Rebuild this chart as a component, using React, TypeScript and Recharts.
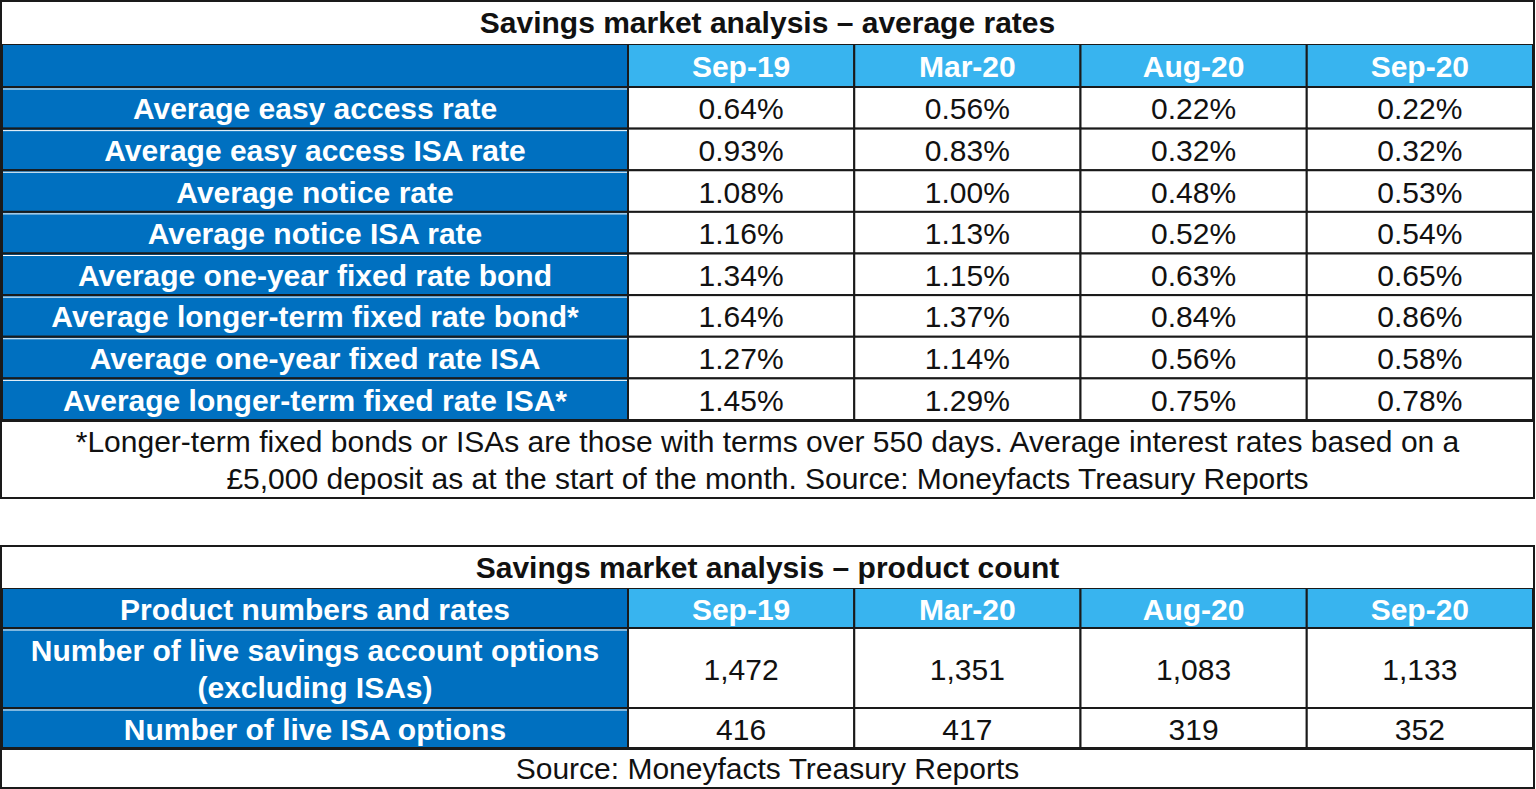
import { Label, Scatter, ScatterChart, XAxis, YAxis } from 'recharts'

const periods = ['Sep-19', 'Mar-20', 'Aug-20', 'Sep-20']

const rateLabels = [
  'Average easy access rate',
  'Average easy access ISA rate',
  'Average notice rate',
  'Average notice ISA rate',
  'Average one-year fixed rate bond',
  'Average longer-term fixed rate bond*',
  'Average one-year fixed rate ISA',
  'Average longer-term fixed rate ISA*',
]
const easyAccess = [0.64, 0.56, 0.22, 0.22]
const easyAccessIsa = [0.93, 0.83, 0.32, 0.32]
const notice = [1.08, 1.0, 0.48, 0.53]
const noticeIsa = [1.16, 1.13, 0.52, 0.54]
const oneYearBond = [1.34, 1.15, 0.63, 0.65]
const longerTermBond = [1.64, 1.37, 0.84, 0.86]
const oneYearIsa = [1.27, 1.14, 0.56, 0.58]
const longerTermIsa = [1.45, 1.29, 0.75, 0.78]

const countLabels = [
  ['Number of live savings account options', '(excluding ISAs)'],
  ['Number of live ISA options'],
]
const liveSavingsOptions = [1472, 1351, 1083, 1133]
const liveIsaOptions = [416, 417, 319, 352]

const rateNote = [
  '*Longer-term fixed bonds or ISAs are those with terms over 550 days. Average interest rates based on a',
  '£5,000 deposit as at the start of the month. Source: Moneyfacts Treasury Reports',
]
const countNote = ['Source: Moneyfacts Treasury Reports']

const FONT = '"Liberation Sans", Arial, sans-serif'
const DARK = '#0070C0'
const LIGHT = '#38B4EF'
const LINE = '#1a1a1a'
const TABLE_W = 1531
const LABEL_W = 626
const COL_W = (TABLE_W - LABEL_W) / 4

type Row = { label: string[]; values: string[] }

type TableProps = {
  title: string
  corner: string
  rows: Row[]
  top: number
  titleH: number
  headerH: number
  bodyH: number
  note: string[]
  noteH: number
}

function SavingsTable({ title, corner, rows, top, titleH, headerH, bodyH, note, noteH }: TableProps) {
  let acc = 0
  const placed = rows.map((r) => {
    const units = r.label.length
    const center = acc + units / 2
    acc += units
    return { ...r, units, center }
  })
  const totalUnits = acc
  const unitPx = bodyH / totalUnits
  const points = placed.flatMap((r) =>
    r.values.map((v, j) => ({ col: periods[j], y: r.center, text: v, units: r.units })),
  )

  const renderCell = (props: any) => {
    const { cx, cy, payload } = props
    const h = payload.units * unitPx
    return (
      <g>
        <rect x={cx - COL_W / 2} y={cy - h / 2} width={COL_W} height={h} fill="#fff" stroke={LINE} strokeWidth={2} />
        <text x={cx} y={cy + 1} textAnchor="middle" dominantBaseline="central" fontSize={30} fontFamily={FONT} fill="#111">
          {payload.text}
        </text>
      </g>
    )
  }

  const renderRowTick = (props: any) => {
    const { y, payload } = props
    const row = placed.find((r) => Math.abs(r.center - payload.value) < 1e-6)
    if (!row) return <g />
    const h = row.units * unitPx
    const n = row.label.length
    return (
      <g>
        <rect x={0} y={y - h / 2} width={LABEL_W} height={h} fill={DARK} stroke={LINE} strokeWidth={2} />
        <line x1={1} x2={LABEL_W - 1} y1={y - h / 2 + 2} y2={y - h / 2 + 2} stroke="#fff" strokeWidth={1} />
        {row.label.map((line, i) => (
          <text
            key={line}
            x={LABEL_W / 2}
            y={y + 1 + (i - (n - 1) / 2) * 37}
            textAnchor="middle"
            dominantBaseline="central"
            fontSize={30}
            fontWeight="bold"
            fontFamily={FONT}
            fill="#fff"
          >
            {line}
          </text>
        ))}
      </g>
    )
  }

  const renderColTick = (props: any) => {
    const { x, payload } = props
    return (
      <g>
        <rect x={x - COL_W / 2} y={0} width={COL_W} height={headerH} fill={LIGHT} stroke={LINE} strokeWidth={2} />
        <text x={x} y={headerH / 2 + 1} textAnchor="middle" dominantBaseline="central" fontSize={30} fontWeight="bold" fontFamily={FONT} fill="#fff">
          {payload.value}
        </text>
      </g>
    )
  }

  const renderCorner = () => (
    <g>
      <rect x={0} y={0} width={LABEL_W} height={headerH} fill={DARK} stroke={LINE} strokeWidth={2} />
      <text x={LABEL_W / 2} y={headerH / 2 + 1} textAnchor="middle" dominantBaseline="central" fontSize={30} fontWeight="bold" fontFamily={FONT} fill="#fff">
        {corner}
      </text>
    </g>
  )

  return (
    <div
      style={{
        position: 'absolute',
        left: 2,
        top,
        width: TABLE_W,
        border: `2px solid ${LINE}`,
        boxSizing: 'content-box',
        marginLeft: -2,
        marginTop: -2,
        background: '#fff',
        fontFamily: FONT,
      }}
    >
      <div
        style={{
          height: titleH,
          lineHeight: `${titleH}px`,
          textAlign: 'center',
          fontWeight: 'bold',
          fontSize: 30,
          color: '#111',
        }}
      >
        {title}
      </div>
      <ScatterChart width={TABLE_W} height={headerH + bodyH} margin={{ top: 0, right: 0, bottom: 0, left: 0 }}>
        <XAxis
          type="category"
          dataKey="col"
          orientation="top"
          height={headerH}
          allowDuplicatedCategory={false}
          axisLine={false}
          tickLine={false}
          tick={renderColTick}
          interval={0}
        />
        <YAxis
          type="number"
          dataKey="y"
          domain={[0, totalUnits]}
          reversed
          width={LABEL_W}
          ticks={placed.map((r) => r.center)}
          interval={0}
          axisLine={false}
          tickLine={false}
          tick={renderRowTick}
        >
          <Label content={renderCorner} />
        </YAxis>
        <Scatter data={points} shape={renderCell} isAnimationActive={false} />
      </ScatterChart>
      <div
        style={{
          height: noteH,
          borderTop: `2px solid ${LINE}`,
          boxSizing: 'border-box',
          display: 'flex',
          flexDirection: 'column',
          justifyContent: 'center',
          alignItems: 'center',
          fontSize: 30,
          lineHeight: '37px',
          color: '#111',
        }}
      >
        {note.map((t) => (
          <div key={t}>{t}</div>
        ))}
      </div>
    </div>
  )
}

const pct = (arr: number[]) => arr.map((v) => `${v.toFixed(2)}%`)
const cnt = (arr: number[]) => arr.map((v) => v.toLocaleString('en-GB'))

export default function App() {
  const rateSeries = [easyAccess, easyAccessIsa, notice, noticeIsa, oneYearBond, longerTermBond, oneYearIsa, longerTermIsa]
  const rateRows: Row[] = rateLabels.map((label, i) => ({ label: [label], values: pct(rateSeries[i]) }))
  const countSeries = [liveSavingsOptions, liveIsaOptions]
  const countRows: Row[] = countLabels.map((label, i) => ({ label, values: cnt(countSeries[i]) }))

  return (
    <div style={{ position: 'relative', width: 1536, height: 789, background: '#fff' }}>
      <style>{'body{margin:0;background:#fff}'}</style>
      <SavingsTable
        title="Savings market analysis – average rates"
        corner=""
        rows={rateRows}
        top={2}
        titleH={42}
        headerH={43}
        bodyH={333}
        note={rateNote}
        noteH={77}
      />
      <SavingsTable
        title="Savings market analysis – product count"
        corner="Product numbers and rates"
        rows={countRows}
        top={547}
        titleH={41}
        headerH={40}
        bodyH={120}
        note={countNote}
        noteH={39}
      />
    </div>
  )
}
